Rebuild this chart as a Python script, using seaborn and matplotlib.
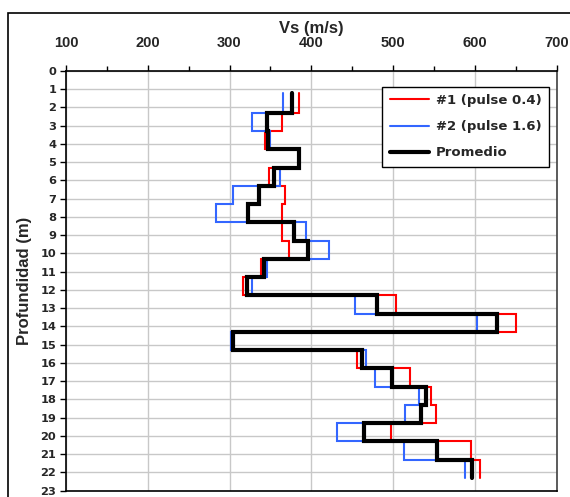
import numpy as np
import pandas as pd
import matplotlib
matplotlib.use("Agg")
import matplotlib.pyplot as plt
from matplotlib.patches import Rectangle
from matplotlib.ticker import MultipleLocator
import seaborn as sns

# ---- data ----
top_depth = 1.2
layer_bottoms = [2.3, 3.3, 4.3, 5.3, 6.3, 7.3, 8.3, 9.3, 10.3, 11.3, 12.3,
                 13.3, 14.3, 15.3, 16.3, 17.3, 18.3, 19.3, 20.3, 21.3, 22.3]
vs_pulse04 = [385, 364, 344, 385, 348, 368, 364, 364, 373, 339, 316,
              504, 651, 304, 456, 521, 547, 552, 497, 596, 607]
vs_pulse16 = [366, 328, 350, 385, 362, 304, 283, 393, 422, 346, 328,
              454, 603, 302, 467, 478, 532, 515, 432, 513, 588]
vs_promedio = [376, 346, 347, 385, 354, 336, 323, 379, 396, 342, 322,
               480, 627, 304, 462, 499, 540, 534, 464, 554, 597]
series_names = ["#1 (pulse 0.4)", "#2 (pulse 1.6)", "Promedio"]
x_ticks = [100, 200, 300, 400, 500, 600, 700]
y_ticks = list(range(0, 24))

colors = ["#FF0000", "#3366FF", "#000000"]
widths = [1.5, 1.5, 3.0]

sns.set_theme(style="white")
plt.rcParams["font.family"] = ["DejaVu Sans"]

fig = plt.figure(figsize=(5.70, 4.97), dpi=100)
ax = fig.add_axes([66 / 570, 1 - 490.7 / 497, (556.5 - 66) / 570, (490.7 - 70.8) / 497])

tops = [top_depth] + layer_bottoms[:-1]


def step_profile(values):
    xs = np.repeat(values, 2)
    ys = np.column_stack([tops, layer_bottoms]).ravel()
    return xs, ys


frames = []
for name, vals in zip(series_names, [vs_pulse04, vs_pulse16, vs_promedio]):
    xs, ys = step_profile(vals)
    frames.append(pd.DataFrame({"Vs": xs, "depth": ys, "serie": name}))

for df, c, lw in zip(frames, colors, widths):
    sns.lineplot(data=df, x="Vs", y="depth", sort=False, estimator=None,
                 color=c, linewidth=lw, ax=ax, label=df["serie"].iloc[0],
                 solid_joinstyle="miter")

ax.set_xlim(100, 700)
ax.set_ylim(23, 0)
ax.xaxis.tick_top()
ax.xaxis.set_label_position("top")
ax.set_xticks(x_ticks)
ax.xaxis.set_minor_locator(MultipleLocator(50))
ax.set_yticks(y_ticks)
ax.set_xticklabels([str(t) for t in x_ticks], fontfamily="Liberation Sans",
                   fontweight="bold", fontsize=10.5)
ax.set_yticklabels([str(t) for t in y_ticks], fontfamily="DejaVu Sans",
                   fontweight="bold", fontsize=8.2)
ax.tick_params(axis="x", which="major", direction="out", length=4.5, width=1,
               color="black", pad=10.5, top=True, bottom=False)
ax.tick_params(axis="x", which="minor", direction="out", length=3.5, width=1,
               color="black", top=True, bottom=False)
ax.tick_params(axis="y", which="major", direction="out", length=4.5, width=1,
               color="black", pad=2.5, left=True)

ax.set_xlabel("Vs (m/s)", fontfamily="Liberation Sans", fontweight="bold",
              fontsize=12, labelpad=2)
ax.set_ylabel("Profundidad (m)", fontfamily="Liberation Sans", fontweight="bold",
              fontsize=12, labelpad=6)

ax.grid(True, which="major", color="#C8C8C8", linewidth=1.0)
ax.set_axisbelow(True)
for side in ["left", "top", "bottom"]:
    ax.spines[side].set_color("black")
    ax.spines[side].set_linewidth(1.2)
ax.spines["right"].set_color("#404040")
ax.spines["right"].set_linewidth(1.2)

leg = ax.legend(loc="upper left", bbox_to_anchor=(382.3 / 570, 1 - 86.7 / 497),
                bbox_transform=fig.transFigure, borderaxespad=0,
                prop={"family": "DejaVu Sans", "weight": "bold", "size": 9.5},
                frameon=True, fancybox=False, shadow=False,
                handlelength=3.0, handletextpad=0.5, borderpad=0.55,
                labelspacing=1.0)
leg.get_frame().set_edgecolor("black")
leg.get_frame().set_linewidth(1.0)
leg.get_frame().set_alpha(1)

# outer chart-area border
fig.patches.append(Rectangle((8 / 570, -0.1), 1.2, 1.1 - 13 / 497,
                             transform=fig.transFigure, fill=False,
                             edgecolor="black", linewidth=1.2, zorder=0))

fig.savefig("out.png", dpi=100)
